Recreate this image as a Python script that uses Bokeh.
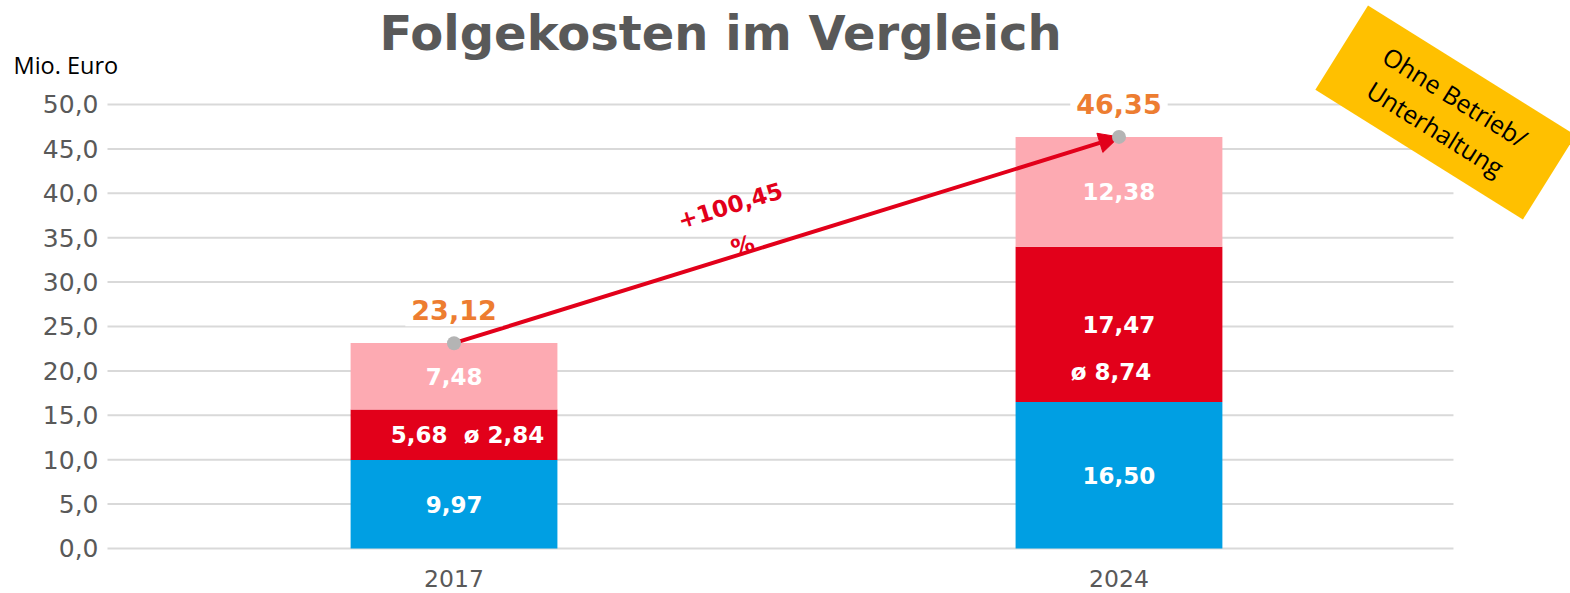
from bokeh.plotting import figure
from bokeh.models import ColumnDataSource, FixedTicker, Label, Arrow, NormalHead
from bokeh.embed import file_html
from bokeh.resources import INLINE
from bokeh.core.properties import value

# ---------------- data ----------------
years = ["2017", "2024"]
blue_vals = [9.97, 16.50]
red_vals = [5.68, 17.47]
pink_vals = [7.48, 12.38]
red_avg = [2.84, 8.74]
totals = [23.12, 46.35]
growth_label = "+100,45\n%"
y_ticks = [0, 5, 10, 15, 20, 25, 30, 35, 40, 45, 50]
title_text = "Folgekosten im Vergleich"
unit_text = "Mio. Euro"
note_text = "Ohne Betrieb/\nUnterhaltung"

# ---------------- styles ----------------
BLUE = "#009FE3"
RED = "#E2001A"
PINK = "#FDAAB2"
ORANGE = "#ED7D31"
GREY_TXT = "#595959"
GRID = "#D9D9D9"
DOT = "#B4B4B4"
YELLOW = "#FFC000"
FONT = "DejaVu Sans"

# layout (data-space extents of the plotting area)
X_LEFT, X_RIGHT = -0.5211, 1.503


def fmt(v):
    return f"{v:.2f}".replace(".", ",")


xs = list(range(len(years)))
red_bottom = [b for b in blue_vals]
pink_bottom = [b + r for b, r in zip(blue_vals, red_vals)]

src = ColumnDataSource(dict(
    x=xs, blue=blue_vals, red=red_vals, pink=pink_vals,
))

p = figure(width=1570, height=593,
           x_range=(-0.682, 1.679), y_range=(-5.068, 61.71),
           output_backend="svg", toolbar_location=None,
           min_border=0, min_border_left=0, min_border_right=0,
           min_border_top=0, min_border_bottom=0)
p.outline_line_color = None
p.background_fill_color = "white"
p.border_fill_color = "white"

# grid (drawn as segments so it stops at the plotting area)
p.xgrid.visible = False
p.ygrid.visible = False
grid = p.segment(x0=[X_LEFT] * len(y_ticks), x1=[X_RIGHT] * len(y_ticks),
                 y0=y_ticks, y1=y_ticks, line_color=GRID, line_width=2)
grid.level = "underlay"

# axes
p.yaxis.fixed_location = X_LEFT
p.yaxis.ticker = FixedTicker(ticks=y_ticks)
p.yaxis.major_label_overrides = {t: f"{t:.1f}".replace(".", ",") for t in y_ticks}
p.yaxis.axis_line_color = None
p.yaxis.major_tick_line_color = None
p.yaxis.minor_tick_line_color = None
p.yaxis.major_tick_out = 0
p.yaxis.major_tick_in = 0
p.yaxis.major_label_standoff = 9
p.yaxis.major_label_text_font = FONT
p.yaxis.major_label_text_font_size = "25px"
p.yaxis.major_label_text_color = GREY_TXT

p.xaxis.fixed_location = 0
p.xaxis.ticker = FixedTicker(ticks=xs)
p.xaxis.major_label_overrides = {i: y for i, y in zip(xs, years)}
p.xaxis.axis_line_color = None
p.xaxis.major_tick_line_color = None
p.xaxis.minor_tick_line_color = None
p.xaxis.major_tick_out = 0
p.xaxis.major_tick_in = 0
p.xaxis.major_label_standoff = 22
p.xaxis.major_label_text_font = FONT
p.xaxis.major_label_text_font_size = "23.5px"
p.xaxis.major_label_text_color = GREY_TXT

# stacked bars (kept in the underlay so the arrow can sit on top of them)
bars = p.vbar_stack(["blue", "red", "pink"], x="x", width=0.311, source=src,
                    color=[BLUE, RED, PINK], line_color=None)
for r in bars:
    r.level = "underlay"

# arrow between totals
arrow = Arrow(end=NormalHead(size=20, fill_color=RED, line_color=RED, line_width=1),
              x_start=xs[0], y_start=totals[0], x_end=xs[1], y_end=totals[1],
              line_color=RED, line_width=4, level="underlay")
p.add_layout(arrow)

# total dots
p.scatter(xs, totals, size=14, color=DOT, line_color=None)

# total labels
p.text(x=xs, y=totals, text=[fmt(t) for t in totals], y_offset=-33,
       text_align="center", text_baseline="middle",
       text_font=value(FONT), text_font_style="bold", text_font_size="27px",
       text_color=ORANGE, background_fill_color="white", padding=6)

lbl_kw = dict(text_align="center", text_baseline="middle",
              text_font=value(FONT), text_font_style="bold",
              text_font_size="23px", text_color="white")

# blue & pink labels
p.text(x=xs, y=[b / 2 for b in blue_vals], text=[fmt(v) for v in blue_vals], **lbl_kw)
p.text(x=xs, y=[pb + v / 2 for pb, v in zip(pink_bottom, pink_vals)],
       text=[fmt(v) for v in pink_vals], **lbl_kw)

# red labels (2017: side by side, 2024: stacked)
red_mid = [rb + v / 2 for rb, v in zip(red_bottom, red_vals)]
p.text(x=[xs[0]], y=[red_mid[0]], text=[fmt(red_vals[0])], x_offset=-35, **lbl_kw)
p.text(x=[xs[0]], y=[red_mid[0]], text=["ø " + fmt(red_avg[0])], x_offset=50, **lbl_kw)
p.text(x=[xs[1]], y=[red_mid[1]], text=[fmt(red_vals[1])], **lbl_kw)
p.text(x=[xs[1]], y=[red_mid[1]], text=["ø " + fmt(red_avg[1])], x_offset=-8, y_offset=48, **lbl_kw)

# growth label
p.add_layout(Label(x=0.4248, y=36.37, text=growth_label, angle=0.297,
                   text_align="center", text_baseline="middle",
                   text_font=FONT, text_font_style="bold", text_font_size="23px",
                   text_color=RED, text_line_height=1.6))

# title
p.add_layout(Label(x=0.4008, y=58.0, text=title_text,
                   text_align="center", text_baseline="middle",
                   text_font=FONT, text_font_style="bold", text_font_size="48px",
                   text_color=GREY_TXT))

# unit
p.add_layout(Label(x=-0.6624, y=54.4, text=unit_text,
                   text_align="left", text_baseline="middle",
                   text_font="Open Sans", text_font_size="23.5px",
                   text_color="black"))

# note box
p.add_layout(Label(x=1.491, y=49.1, text=note_text, angle=-0.5585,
                   text_align="center", text_baseline="middle",
                   text_font="Open Sans", text_font_size="25px",
                   text_color="black", background_fill_color=YELLOW,
                   text_line_height=1.1,
                   padding=dict(x=40, y=14)))

open("out.html", "w").write(file_html(p, INLINE))
